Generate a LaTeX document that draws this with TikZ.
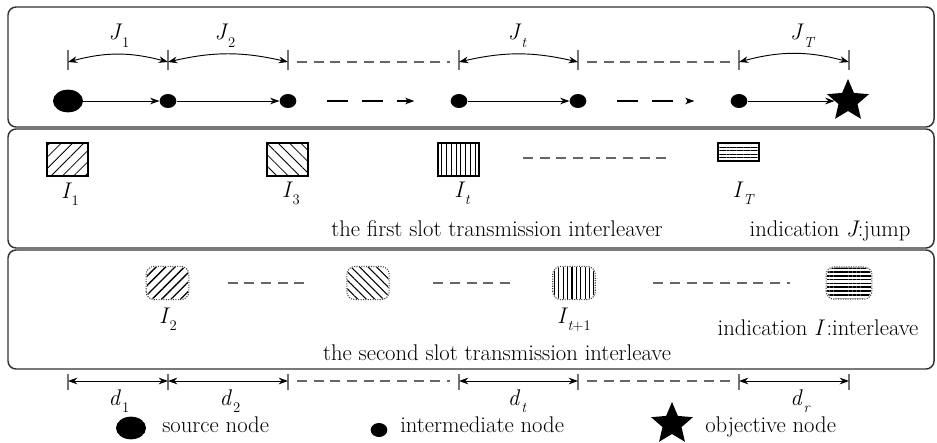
\documentclass[tikz,border=0pt]{standalone}
\usepackage{fontspec}
\usetikzlibrary{patterns.meta,shapes.geometric,arrows.meta}
\newcommand{\sublab}[2]{{\itshape #1}\kern1.5pt\raisebox{-0.32em}{\fontsize{11}{11}\selectfont #2}}
\begin{document}
\begin{tikzpicture}[x=0.75pt,y=-0.75pt,
  font=\fontsize{17}{20}\selectfont,
  panel/.style={draw=black!80,line width=1.1pt,rounded corners=6pt},
  tickmark/.style={draw=black!55,line width=1pt},
  gapline/.style={draw=black!60,line width=1.1pt,dash pattern=on 7.5pt off 5pt},
  jumparrow/.style={{Stealth[length=7pt,width=5pt]}-{Stealth[length=7pt,width=5pt]},line width=0.7pt},
  srcnode/.style={ellipse,fill=black,inner sep=0,minimum width=22.5pt,minimum height=17pt},
  midnode/.style={ellipse,fill=black,inner sep=0,minimum width=12.5pt,minimum height=10.5pt},
  objnode/.style={star,star points=5,star point ratio=2.2,fill=black,inner sep=0,minimum size=33pt},
  hop/.style={-{Stealth[length=7pt,width=5pt]},line width=0.7pt},
  dashhop/.style={-{Stealth[length=7pt,width=5pt]},line width=1.4pt,dash pattern=on 15.75pt off 10.5pt},
  ilv/.style={draw,line width=0.8pt,inner sep=0,minimum width=30.75pt,minimum height=24.75pt},
  ilvb/.style={inner sep=0,rounded corners=6pt,minimum width=31pt,minimum height=24pt},
  ilvframe/.style={draw=black!75,densely dotted,line width=0.8pt,rounded corners=6pt},
  lab/.style={anchor=base,inner sep=0},
]
\useasboundingbox (0,0) rectangle (937,442);
% panels
\draw[panel] (8,7) rectangle (934,127);
\draw[panel] (8,129) rectangle (934,248);
\draw[panel] (8,250) rectangle (934,369);

% ticks and coordinates
\foreach \i/\x in {1/68,2/168,3/288,4/459,5/578,6/739,7/849}{
  \coordinate (u\i) at (\x,62);
  \coordinate (b\i) at (\x,381);
  \draw[tickmark] (\x,50) -- (\x,70);
  \draw[tickmark] (\x,374) -- (\x,390);
}
% jumps
\draw[jumparrow] (u1) to[bend left=15] (u2);
\draw[jumparrow] (u2) to[bend left=13] (u3);
\draw[jumparrow] (u4) to[bend left=13] (u5);
\draw[jumparrow] (u6) to[bend left=15] (u7);
\draw[gapline] ([xshift=6.75pt]u3) -- ([xshift=-6.75pt]u4);
\draw[gapline] ([xshift=6.75pt]u5) -- ([xshift=-6.75pt]u6);
\node[lab] (J1) at (119,40) {\sublab{J}{1}};
\node[lab] (J2) at (225,40) {\sublab{J}{2}};
\node[lab] (Jt) at (517,40) {\sublab{J}{\itshape t}};
\node[lab] (JT) at (802,40) {\sublab{J}{\itshape T}};

% route nodes
\node[srcnode] (s) at (68,101) {};
\node[midnode] (n1) at (168,101) {};
\node[midnode] (n2) at (288,101) {};
\node[midnode] (n3) at (459,101) {};
\node[midnode] (n4) at (578,101) {};
\node[midnode] (n5) at (739,101) {};
\node[objnode] (obj) at (848,101) {};
\draw[hop] (s) -- (n1);
\draw[hop] (n1) -- (n2);
\draw[dashhop,shorten <=23pt,shorten >=27pt] (n2) -- (n3);
\draw[hop] (n3) -- (n4);
\draw[dashhop,shorten <=23pt,shorten >=27pt] (n4) -- (n5);
\draw[hop] (n5) -- (obj);

% first slot
\node[ilv,pattern={Lines[angle=45,distance=6pt,line width=0.6pt]}] (i1) at (67.5,159.5) {};
\node[ilv,pattern={Lines[angle=-45,distance=6pt,line width=0.6pt]}] (i3) at (287.5,159.5) {};
\node[ilv,pattern={Lines[angle=90,distance=3.6pt,line width=0.6pt]}] (it) at (458.5,159.5) {};
\node[ilv,minimum height=13.5pt,pattern={Lines[angle=0,distance=2.6pt,line width=0.9pt]}] (iT) at (738.5,152) {};
\coordinate (g1a) at (523,158);
\coordinate (g1b) at (670,158);
\draw[gapline] (g1a) -- (g1b);
\node[lab] (I1) at (70,198) {\sublab{I}{1}};
\node[lab] (I3) at (291,197) {\sublab{I}{3}};
\node[lab] (It) at (462,197) {\sublab{I}{\itshape t}};
\node[lab] (IT) at (743,197) {\sublab{I}{\itshape T}};
\node[lab] (first) at (497,236) {the first slot transmission interleaver};
\node[lab] (indJ) at (830,236) {indication {\itshape J}:jump};

% second slot
\node[ilvb,pattern={Lines[angle=45,distance=5pt,line width=1pt]}] (i2) at (167.5,283) {};
\node[ilvb,pattern={Lines[angle=-45,distance=4.5pt,line width=0.8pt]}] (i2b) at (368,283) {};
\node[ilvb,pattern={Lines[angle=90,distance=3.3pt,line width=0.9pt]}] (it1) at (574,283) {};
\node[ilvb,minimum width=33pt,minimum height=23pt,pattern={Lines[angle=0,distance=2.9pt,line width=1.3pt]}] (iT2) at (849,283) {};
\foreach \b in {i2,i2b,it1,iT2}{
  \draw[ilvframe] (\b.south west) rectangle (\b.north east);
}
\draw[gapline,shorten <=29pt,shorten >=30pt] (i2) -- (i2b);
\draw[gapline,shorten <=33pt,shorten >=30pt] (i2b) -- (it1);
\draw[gapline,shorten <=43.5pt,shorten >=27pt] (it1) -- (iT2);
\node[lab] (I2) at (168,323) {\sublab{I}{2}};
\node[lab] (It1) at (574,323) {\sublab{I}{{\itshape t}+1}};
\node[lab] (indI) at (818,335) {indication {\itshape I}\,:interleave};
\node[lab] (second) at (497,360) {the second slot transmission interleave};

% distances
\draw[jumparrow] (b1) -- (b2);
\draw[jumparrow] (b2) -- (b3);
\draw[jumparrow] (b4) -- (b5);
\draw[jumparrow] (b6) -- (b7);
\draw[gapline] ([xshift=6.75pt]b3) -- ([xshift=-6.75pt]b4);
\draw[gapline] ([xshift=6.75pt]b5) -- ([xshift=-6.75pt]b6);
\node[lab] (d1) at (119,405) {\sublab{d}{1}};
\node[lab] (d2) at (230,405) {\sublab{d}{2}};
\node[lab] (dt) at (517,405) {\sublab{d}{\itshape t}};
\node[lab] (dr) at (800,405) {\sublab{d}{\itshape r}};

% legend
\node[srcnode] (ls) at (131,428) {};
\node[anchor=base west,inner sep=0] (lst) at (162,432) {source node};
\node[midnode] (lm) at (379,430) {};
\node[anchor=base west,inner sep=0] (lmt) at (400,432) {intermediate node};
\node[objnode] (lo) at (672,424) {};
\node[anchor=base west,inner sep=0] (lot) at (705,432) {objective node};
\end{tikzpicture}
\end{document}
